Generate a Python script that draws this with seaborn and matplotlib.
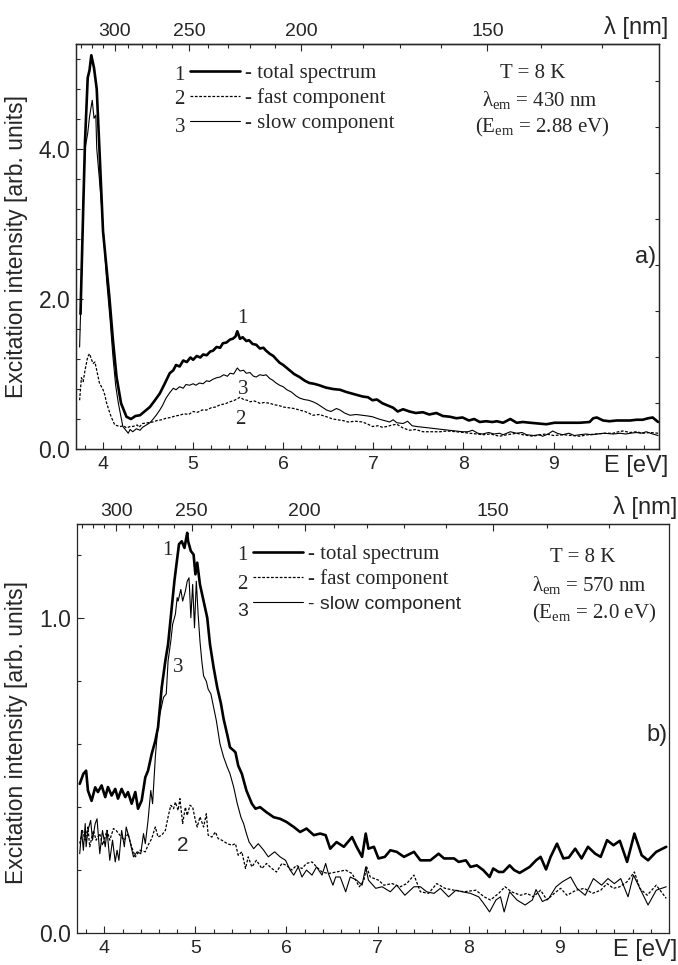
import numpy as np
import pandas as pd
import matplotlib
matplotlib.use("Agg")
import matplotlib.pyplot as plt
import seaborn as sns
from matplotlib.ticker import MultipleLocator, FixedLocator, FormatStrFormatter, NullFormatter

# ---------------- data: panel a) (lambda_em = 430 nm) ----------------
a_total_E = [3.75, 3.78, 3.80, 3.83, 3.85, 3.87, 3.90, 3.93, 3.96, 4.00, 4.04, 4.07, 4.11, 4.15, 4.20, 4.26,
             4.31, 4.36, 4.41, 4.46, 4.52, 4.57, 4.63, 4.68, 4.74, 4.78, 4.81, 4.85, 4.89, 4.93, 4.97, 5.00,
             5.04, 5.08, 5.11, 5.15, 5.19, 5.22, 5.26, 5.30, 5.33, 5.37, 5.41, 5.44, 5.47, 5.49, 5.52, 5.55,
             5.59, 5.62, 5.66, 5.70, 5.74, 5.78, 5.81, 5.85, 5.89, 5.92, 5.96, 6.00, 6.04, 6.08, 6.12, 6.18,
             6.24, 6.29, 6.34, 6.40, 6.47, 6.55, 6.63, 6.70, 6.76, 6.82, 6.88, 6.94, 6.99, 7.04, 7.10, 7.16,
             7.22, 7.27, 7.33, 7.40, 7.47, 7.55, 7.62, 7.70, 7.77, 7.85, 7.92, 7.99, 8.06, 8.12, 8.18, 8.25,
             8.32, 8.37, 8.44, 8.52, 8.59, 8.66, 8.74, 8.83, 8.92, 9.01, 9.10, 9.20, 9.29, 9.40, 9.44, 9.48,
             9.55, 9.62, 9.70, 9.77, 9.85, 9.92, 9.99, 10.05, 10.10, 10.16]
a_total_I = [1.80, 3.20, 4.10, 4.95, 5.05, 5.25, 5.08, 4.80, 4.00, 2.90, 2.40, 2.03, 1.45, 0.96, 0.61, 0.43,
             0.40, 0.44, 0.45, 0.50, 0.56, 0.64, 0.74, 0.86, 1.01, 1.05, 1.12, 1.10, 1.18, 1.16, 1.22, 1.19,
             1.24, 1.22, 1.26, 1.25, 1.30, 1.31, 1.36, 1.35, 1.41, 1.42, 1.46, 1.47, 1.50, 1.57, 1.47, 1.49,
             1.44, 1.45, 1.40, 1.39, 1.34, 1.35, 1.31, 1.27, 1.24, 1.20, 1.15, 1.12, 1.08, 1.04, 1.00, 0.96,
             0.91, 0.88, 0.87, 0.85, 0.82, 0.80, 0.79, 0.76, 0.74, 0.72, 0.70, 0.69, 0.65, 0.66, 0.61, 0.58,
             0.55, 0.50, 0.53, 0.50, 0.48, 0.49, 0.46, 0.48, 0.44, 0.43, 0.41, 0.42, 0.38, 0.40, 0.36, 0.37,
             0.36, 0.37, 0.35, 0.40, 0.35, 0.36, 0.35, 0.34, 0.33, 0.35, 0.35, 0.35, 0.35, 0.36, 0.41, 0.42,
             0.38, 0.37, 0.38, 0.38, 0.38, 0.39, 0.39, 0.41, 0.42, 0.36]

a_slow_E = [3.74, 3.76, 3.78, 3.80, 3.83, 3.85, 3.88, 3.90, 3.92, 3.93, 3.96, 3.99, 4.02, 4.04, 4.08, 4.11,
            4.14, 4.17, 4.22, 4.28, 4.30, 4.33, 4.37, 4.41, 4.44, 4.48, 4.52, 4.55, 4.59, 4.63, 4.66, 4.70,
            4.74, 4.78, 4.81, 4.85, 4.89, 4.92, 4.96, 5.00, 5.03, 5.07, 5.11, 5.15, 5.18, 5.22, 5.26, 5.30,
            5.34, 5.38, 5.41, 5.45, 5.49, 5.52, 5.56, 5.59, 5.63, 5.67, 5.70, 5.74, 5.78, 5.81, 5.85, 5.88,
            5.92, 5.96, 6.00, 6.04, 6.09, 6.14, 6.18, 6.23, 6.28, 6.33, 6.38, 6.43, 6.48, 6.53, 6.59, 6.63,
            6.68, 6.74, 6.81, 6.88, 6.94, 6.99, 7.06, 7.12, 7.18, 7.22, 7.26, 7.33, 7.38, 7.43, 7.48, 7.55,
            7.63, 7.70, 7.77, 7.84, 7.92, 7.99, 8.05, 8.10, 8.16, 8.21, 8.28, 8.34, 8.40, 8.44, 8.52, 8.59,
            8.65, 8.70, 8.78, 8.84, 8.88, 8.94, 8.99, 9.04, 9.10, 9.17, 9.23, 9.29, 9.36, 9.42, 9.48, 9.56,
            9.66, 9.74, 9.80, 9.85, 9.92, 9.97, 10.03, 10.10, 10.16]
a_slow_I = [1.36, 2.20, 3.30, 4.00, 4.21, 4.43, 4.65, 4.41, 4.45, 4.01, 3.59, 3.15, 2.60, 2.25, 1.70, 1.23,
            0.85, 0.61, 0.30, 0.21, 0.26, 0.23, 0.27, 0.25, 0.29, 0.32, 0.35, 0.39, 0.45, 0.52, 0.58, 0.68,
            0.75, 0.81, 0.79, 0.83, 0.81, 0.86, 0.85, 0.87, 0.85, 0.88, 0.87, 0.91, 0.90, 0.93, 0.95, 0.96,
            0.99, 0.97, 1.01, 1.00, 1.08, 1.04, 1.05, 1.01, 1.02, 0.97, 0.96, 0.99, 0.98, 0.99, 0.94, 0.92,
            0.88, 0.85, 0.83, 0.79, 0.76, 0.71, 0.68, 0.66, 0.65, 0.63, 0.60, 0.56, 0.52, 0.50, 0.54, 0.52,
            0.48, 0.45, 0.46, 0.45, 0.44, 0.43, 0.40, 0.38, 0.36, 0.39, 0.35, 0.34, 0.37, 0.31, 0.30, 0.29,
            0.28, 0.27, 0.26, 0.25, 0.24, 0.23, 0.23, 0.25, 0.21, 0.20, 0.22, 0.20, 0.21, 0.19, 0.23, 0.21,
            0.22, 0.19, 0.18, 0.19, 0.17, 0.20, 0.24, 0.21, 0.19, 0.21, 0.18, 0.19, 0.20, 0.19, 0.20, 0.21,
            0.20, 0.21, 0.20, 0.21, 0.22, 0.21, 0.23, 0.20, 0.18]

a_fast_E = [3.74, 3.76, 3.78, 3.80, 3.83, 3.85, 3.87, 3.89, 3.91, 3.93, 3.96, 4.00, 4.02, 4.04, 4.07, 4.09,
            4.13, 4.16, 4.19, 4.23, 4.26, 4.30, 4.33, 4.38, 4.40, 4.44, 4.50, 4.55, 4.60, 4.65, 4.70, 4.75,
            4.80, 4.85, 4.90, 4.95, 5.00, 5.05, 5.10, 5.15, 5.20, 5.25, 5.30, 5.35, 5.41, 5.46, 5.52, 5.56,
            5.60, 5.63, 5.68, 5.74, 5.79, 5.85, 5.90, 5.95, 6.00, 6.06, 6.12, 6.18, 6.24, 6.28, 6.33, 6.40,
            6.48, 6.55, 6.60, 6.66, 6.72, 6.80, 6.88, 6.94, 6.99, 7.05, 7.10, 7.15, 7.21, 7.26, 7.33, 7.40,
            7.47, 7.55, 7.65, 7.74, 7.82, 7.92, 8.00, 8.07, 8.15, 8.22, 8.30, 8.40, 8.48, 8.59, 8.66, 8.77,
            8.85, 8.92, 9.00, 9.11, 9.20, 9.29, 9.38, 9.48, 9.57, 9.66, 9.72, 9.77, 9.85, 9.92, 9.99, 10.07,
            10.16]
a_fast_I = [0.65, 0.95, 0.90, 1.05, 1.23, 1.27, 1.20, 1.14, 1.16, 1.05, 0.88, 0.79, 0.72, 0.61, 0.50, 0.43,
            0.32, 0.31, 0.30, 0.31, 0.28, 0.30, 0.30, 0.32, 0.29, 0.34, 0.35, 0.36, 0.38, 0.39, 0.41, 0.42,
            0.44, 0.45, 0.47, 0.46, 0.50, 0.49, 0.52, 0.52, 0.55, 0.56, 0.59, 0.60, 0.63, 0.65, 0.69, 0.66,
            0.65, 0.63, 0.64, 0.61, 0.62, 0.61, 0.59, 0.58, 0.56, 0.55, 0.54, 0.52, 0.50, 0.48, 0.45, 0.46,
            0.43, 0.40, 0.39, 0.38, 0.36, 0.37, 0.36, 0.33, 0.30, 0.31, 0.29, 0.30, 0.32, 0.33, 0.28, 0.25,
            0.26, 0.23, 0.23, 0.23, 0.24, 0.23, 0.22, 0.21, 0.20, 0.19, 0.20, 0.17, 0.19, 0.21, 0.19, 0.17,
            0.19, 0.20, 0.18, 0.19, 0.18, 0.17, 0.19, 0.20, 0.21, 0.21, 0.23, 0.24, 0.22, 0.23, 0.21, 0.22,
            0.21]

# ---------------- data: panel b) (lambda_em = 570 nm) ----------------
b_total_E = [3.73, 3.77, 3.80, 3.82, 3.86, 3.90, 3.93, 3.97, 4.01, 4.04, 4.08, 4.12, 4.15, 4.19, 4.23, 4.26,
             4.30, 4.34, 4.37, 4.41, 4.45, 4.48, 4.52, 4.56, 4.59, 4.63, 4.67, 4.70, 4.74, 4.77, 4.80, 4.82,
             4.85, 4.88, 4.91, 4.92, 4.95, 4.98, 5.00, 5.02, 5.05, 5.09, 5.13, 5.16, 5.20, 5.24, 5.28, 5.31,
             5.35, 5.38, 5.42, 5.44, 5.47, 5.51, 5.56, 5.62, 5.66, 5.71, 5.78, 5.86, 5.93, 6.00, 6.08, 6.15,
             6.22, 6.30, 6.37, 6.43, 6.48, 6.55, 6.63, 6.72, 6.77, 6.83, 6.87, 6.90, 6.96, 7.01, 7.08, 7.14,
             7.21, 7.29, 7.40, 7.47, 7.58, 7.67, 7.73, 7.84, 7.89, 7.97, 8.02, 8.09, 8.16, 8.23, 8.27, 8.33,
             8.38, 8.45, 8.50, 8.56, 8.67, 8.74, 8.79, 8.85, 8.90, 8.97, 9.04, 9.10, 9.17, 9.24, 9.31, 9.39,
             9.45, 9.52, 9.59, 9.66, 9.74, 9.82, 9.90, 9.97, 10.06, 10.17]
b_total_I = [0.474, 0.506, 0.516, 0.453, 0.420, 0.463, 0.448, 0.469, 0.432, 0.464, 0.437, 0.458, 0.427, 0.458,
             0.432, 0.448, 0.411, 0.448, 0.395, 0.421, 0.495, 0.516, 0.569, 0.611, 0.654, 0.780, 0.865, 0.918,
             1.034, 1.120, 1.190, 1.236, 1.245, 1.224, 1.272, 1.245, 1.214, 1.203, 1.140, 1.177, 1.108, 1.055,
             1.002, 0.918, 0.844, 0.780, 0.730, 0.680, 0.630, 0.590, 0.580, 0.574, 0.532, 0.506, 0.453, 0.411,
             0.395, 0.400, 0.384, 0.368, 0.363, 0.353, 0.337, 0.321, 0.332, 0.311, 0.316, 0.311, 0.268, 0.289,
             0.274, 0.305, 0.274, 0.242, 0.316, 0.268, 0.274, 0.237, 0.242, 0.263, 0.258, 0.242, 0.258, 0.231,
             0.231, 0.252, 0.237, 0.237, 0.226, 0.231, 0.210, 0.215, 0.200, 0.178, 0.205, 0.194, 0.194, 0.215,
             0.200, 0.191, 0.210, 0.231, 0.242, 0.202, 0.242, 0.284, 0.237, 0.240, 0.268, 0.237, 0.274, 0.252,
             0.242, 0.295, 0.279, 0.293, 0.226, 0.316, 0.247, 0.231, 0.258, 0.274]

b_slow_E = [3.73, 3.75, 3.77, 3.79, 3.80, 3.82, 3.85, 3.87, 3.90, 3.92, 3.95, 3.98, 4.01, 4.03, 4.06, 4.09,
            4.12, 4.14, 4.16, 4.19, 4.22, 4.24, 4.27, 4.32, 4.36, 4.40, 4.43, 4.45, 4.48, 4.51, 4.53, 4.56,
            4.59, 4.61, 4.65, 4.68, 4.70, 4.73, 4.75, 4.78, 4.80, 4.81, 4.84, 4.86, 4.89, 4.91, 4.93, 4.95,
            4.97, 4.99, 5.01, 5.03, 5.05, 5.07, 5.09, 5.12, 5.14, 5.17, 5.20, 5.23, 5.27, 5.31, 5.35, 5.38,
            5.42, 5.46, 5.50, 5.53, 5.56, 5.59, 5.64, 5.69, 5.75, 5.80, 5.87, 5.93, 5.99, 6.04, 6.08, 6.13,
            6.17, 6.22, 6.28, 6.33, 6.39, 6.43, 6.46, 6.51, 6.54, 6.59, 6.65, 6.70, 6.77, 6.83, 6.87, 6.90,
            6.98, 7.05, 7.14, 7.21, 7.30, 7.40, 7.47, 7.54, 7.62, 7.69, 7.78, 7.86, 7.93, 8.02, 8.11, 8.16,
            8.23, 8.30, 8.35, 8.39, 8.45, 8.53, 8.62, 8.70, 8.74, 8.81, 8.88, 8.96, 9.03, 9.12, 9.19, 9.28,
            9.37, 9.46, 9.53, 9.60, 9.67, 9.75, 9.81, 9.88, 9.97, 10.06, 10.17]
b_slow_I = [0.252, 0.326, 0.263, 0.348, 0.274, 0.326, 0.358, 0.295, 0.348, 0.363, 0.252, 0.326, 0.274, 0.326,
            0.231, 0.295, 0.226, 0.263, 0.231, 0.326, 0.274, 0.337, 0.305, 0.242, 0.258, 0.252, 0.316, 0.284,
            0.358, 0.453, 0.411, 0.559, 0.664, 0.696, 0.749, 0.760, 0.865, 0.928, 0.981, 1.013, 1.066, 1.055,
            1.092, 1.055, 1.087, 1.118, 1.129, 1.002, 1.108, 0.970, 1.118, 1.013, 0.928, 0.865, 0.817, 0.800,
            0.775, 0.760, 0.717, 0.675, 0.601, 0.559, 0.527, 0.506, 0.464, 0.411, 0.368, 0.347, 0.316, 0.289,
            0.268, 0.284, 0.263, 0.242, 0.258, 0.242, 0.231, 0.200, 0.184, 0.210, 0.178, 0.200, 0.184, 0.210,
            0.184, 0.221, 0.189, 0.152, 0.178, 0.178, 0.131, 0.178, 0.168, 0.152, 0.210, 0.168, 0.142, 0.147,
            0.131, 0.152, 0.120, 0.147, 0.147, 0.131, 0.126, 0.142, 0.115, 0.136, 0.131, 0.126, 0.115, 0.096,
            0.067, 0.105, 0.115, 0.067, 0.131, 0.105, 0.089, 0.105, 0.138, 0.100, 0.110, 0.147, 0.163, 0.178,
            0.142, 0.120, 0.173, 0.152, 0.173, 0.157, 0.173, 0.115, 0.184, 0.142, 0.089, 0.136, 0.147]

b_fast_E = [3.73, 3.76, 3.79, 3.82, 3.84, 3.88, 3.91, 3.95, 3.98, 4.03, 4.06, 4.10, 4.13, 4.17, 4.22, 4.26,
            4.30, 4.34, 4.39, 4.45, 4.48, 4.52, 4.56, 4.59, 4.63, 4.67, 4.70, 4.73, 4.76, 4.78, 4.81, 4.83,
            4.86, 4.89, 4.91, 4.94, 4.97, 5.00, 5.02, 5.05, 5.09, 5.12, 5.14, 5.18, 5.22, 5.25, 5.29, 5.35,
            5.40, 5.44, 5.47, 5.51, 5.55, 5.58, 5.62, 5.67, 5.73, 5.78, 5.84, 5.89, 5.95, 6.00, 6.06, 6.11,
            6.17, 6.22, 6.28, 6.33, 6.39, 6.46, 6.55, 6.65, 6.72, 6.80, 6.85, 6.88, 6.92, 7.01, 7.07, 7.16,
            7.25, 7.32, 7.40, 7.47, 7.56, 7.65, 7.74, 7.84, 7.95, 8.08, 8.17, 8.24, 8.33, 8.40, 8.47, 8.57,
            8.64, 8.71, 8.79, 8.86, 8.94, 9.01, 9.08, 9.18, 9.27, 9.36, 9.45, 9.52, 9.59, 9.66, 9.74, 9.82,
            9.88, 9.96, 10.06, 10.17]
b_fast_I = [0.284, 0.326, 0.295, 0.337, 0.274, 0.326, 0.295, 0.316, 0.279, 0.326, 0.295, 0.332, 0.326, 0.311,
            0.295, 0.316, 0.274, 0.242, 0.263, 0.258, 0.279, 0.300, 0.337, 0.305, 0.311, 0.326, 0.369, 0.406,
            0.395, 0.416, 0.390, 0.427, 0.348, 0.400, 0.374, 0.406, 0.400, 0.358, 0.337, 0.369, 0.337, 0.379,
            0.311, 0.305, 0.321, 0.300, 0.295, 0.284, 0.279, 0.284, 0.247, 0.258, 0.205, 0.242, 0.210, 0.231,
            0.205, 0.221, 0.205, 0.194, 0.221, 0.215, 0.200, 0.215, 0.205, 0.221, 0.226, 0.210, 0.194, 0.189,
            0.194, 0.200, 0.189, 0.147, 0.168, 0.210, 0.178, 0.168, 0.152, 0.157, 0.147, 0.157, 0.184, 0.131,
            0.126, 0.157, 0.142, 0.136, 0.131, 0.136, 0.115, 0.105, 0.126, 0.147, 0.131, 0.120, 0.126, 0.115,
            0.136, 0.105, 0.126, 0.142, 0.120, 0.136, 0.142, 0.126, 0.136, 0.157, 0.142, 0.147, 0.163, 0.194,
            0.142, 0.120, 0.152, 0.110]

legend_labels = ["- total spectrum", "- fast component", "- slow component"]
lambda_major = [300, 250, 200, 150]
lambda_minor = list(range(120, 340, 10))

# ---------------- style ----------------
sns.set_style("ticks")
plt.rcParams["font.family"] = ["Liberation Sans", "DejaVu Sans"]
plt.rcParams["mathtext.fontset"] = "custom"
plt.rcParams["mathtext.rm"] = "Liberation Serif"
plt.rcParams["mathtext.it"] = "Liberation Serif:italic"
plt.rcParams["axes.linewidth"] = 0.9

SERIF = ["Liberation Serif", "DejaVu Serif"]
SANS = ["Liberation Sans", "DejaVu Sans"]
HC = 1239.84


def e2l(x):
    x = np.asarray(x, dtype=float)
    with np.errstate(divide="ignore", invalid="ignore"):
        return HC / x


fig = plt.figure(figsize=(6.78, 9.65), dpi=100)
axA = fig.add_axes([76 / 678, 1 - 449 / 965, 583 / 678, 405 / 965])
axB = fig.add_axes([77 / 678, 1 - 933 / 965, 592 / 678, 409 / 965])


def draw(ax, tE, tI, fE, fI, sE, sI):
    sns.lineplot(x=tE, y=tI, ax=ax, color="black", linewidth=1.9, estimator=None, sort=False,
                 label=legend_labels[0])
    sns.lineplot(x=fE, y=fI, ax=ax, color="black", linewidth=0.9, estimator=None, sort=False,
                 linestyle=(0, (2.2, 1.3)), label=legend_labels[1])
    sns.lineplot(x=sE, y=sI, ax=ax, color="black", linewidth=0.8, estimator=None, sort=False,
                 label=legend_labels[2])


def style_axes(ax, xlim, ylim, ymaj, ymin):
    ax.set_xlim(*xlim)
    ax.set_ylim(*ylim)
    ax.xaxis.set_major_locator(FixedLocator([4, 5, 6, 7, 8, 9]))
    ax.xaxis.set_minor_locator(MultipleLocator(0.2))
    ax.yaxis.set_major_locator(MultipleLocator(ymaj))
    ax.yaxis.set_minor_locator(MultipleLocator(ymin))
    ax.yaxis.set_major_formatter(FormatStrFormatter("%.1f"))
    ax.tick_params(axis="both", which="both", direction="in", top=False, right=False, width=0.8)
    ax.tick_params(axis="both", which="major", length=5)
    ax.tick_params(axis="both", which="minor", length=3)
    ax.tick_params(axis="x", which="major", labelsize=14, pad=5)
    ax.tick_params(axis="y", which="major", labelsize=16.5, pad=4)
    ax.set_xlabel("")
    ax.set_ylabel("Excitation intensity [arb. units]", fontsize=16.5)
    for s in ax.spines.values():
        s.set_visible(True)
        s.set_linewidth(0.9)
    sec = ax.secondary_xaxis("top", functions=(e2l, e2l))
    sec.set_xticks(lambda_major)
    sec.xaxis.set_minor_locator(FixedLocator(lambda_minor))
    sec.xaxis.set_minor_formatter(NullFormatter())
    sec.tick_params(axis="x", which="both", direction="in", width=0.8, labelsize=14, pad=3)
    sec.tick_params(axis="x", which="major", length=5)
    sec.tick_params(axis="x", which="minor", length=3)
    ax.text(0.96, 1.04, "λ [nm]", transform=ax.transAxes, ha="center", va="center",
            fontsize=17, family=SANS)
    ax.text(0.96, -0.042, "E [eV]", transform=ax.transAxes, ha="center", va="center",
            fontsize=17, family=SANS)


# ---------- panel a ----------
draw(axA, a_total_E, a_total_I, a_fast_E, a_fast_I, a_slow_E, a_slow_I)
style_axes(axA, (3.70, 10.17), (0, 5.4), 2.0, 0.4)
axA.yaxis.set_label_coords(-0.082, 0.5)
legA = axA.legend(loc="upper left", bbox_to_anchor=(0.196, 0.952), frameon=False,
                  prop={"family": SERIF, "size": 15}, handlelength=2.4, handletextpad=0.25,
                  labelspacing=0.25, borderpad=0, borderaxespad=0)
for num, y in zip(["1", "2", "3"], [0.923, 0.862, 0.795]):
    axA.text(0.178, y, num, transform=axA.transAxes, ha="center", va="center",
             fontsize=15, family=SERIF)
axA.text(0.784, 0.928, "T = 8 K", transform=axA.transAxes, ha="center", va="center",
         fontsize=15, family=SERIF)
axA.text(0.796, 0.862, r"λ$_{\mathrm{em}}$ = 430 nm", transform=axA.transAxes, ha="center",
         va="center", fontsize=15, family=SERIF)
axA.text(0.799, 0.795, r"(E$_{\mathrm{em}}$ = 2.88 eV)", transform=axA.transAxes, ha="center",
         va="center", fontsize=15, family=SERIF)
axA.text(0.995, 0.474, "a)", transform=axA.transAxes, ha="right", va="center", fontsize=17,
         family=SANS)
axA.text(0.286, 0.323, "1", transform=axA.transAxes, ha="center", va="center", fontsize=15, family=SERIF)
axA.text(0.286, 0.148, "3", transform=axA.transAxes, ha="center", va="center", fontsize=15, family=SERIF)
axA.text(0.281, 0.072, "2", transform=axA.transAxes, ha="center", va="center", fontsize=15, family=SERIF)
# right-side inner ticks of panel a
axR = axA.twinx()
axR.set_ylim(0, 405 / 46)
axR.yaxis.set_major_locator(MultipleLocator(1))
axR.tick_params(axis="y", which="both", direction="in", length=3, width=0.8, labelright=False)
axR.grid(False)

# ---------- panel b ----------
draw(axB, b_total_E, b_total_I, b_fast_E, b_fast_I, b_slow_E, b_slow_I)
style_axes(axB, (3.70, 10.20), (0, 1.3), 1.0, 0.2)
axB.yaxis.set_label_coords(-0.083, 0.49)
legB = axB.legend(loc="upper left", bbox_to_anchor=(0.297, 0.950), frameon=False,
                  prop={"family": SERIF, "size": 15}, handlelength=2.4, handletextpad=0.25,
                  labelspacing=0.25, borderpad=0, borderaxespad=0)
legB.get_texts()[2].set_family(SANS)
legB.get_texts()[2].set_fontsize(14)
for num, y, fam in zip(["1", "2", "3"], [0.922, 0.853, 0.785], [SERIF, SERIF, SANS]):
    axB.text(0.279, y, num, transform=axB.transAxes, ha="center", va="center",
             fontsize=15 if fam is SERIF else 14, family=fam)
axB.text(0.855, 0.919, "T = 8 K", transform=axB.transAxes, ha="center", va="center",
         fontsize=15, family=SERIF)
axB.text(0.866, 0.851, r"λ$_{\mathrm{em}}$ = 570 nm", transform=axB.transAxes, ha="center",
         va="center", fontsize=15, family=SERIF)
axB.text(0.873, 0.782, r"(E$_{\mathrm{em}}$ = 2.0 eV)", transform=axB.transAxes, ha="center",
         va="center", fontsize=15, family=SERIF)
axB.text(0.997, 0.484, "b)", transform=axB.transAxes, ha="right", va="center", fontsize=17,
         family=SANS)
axB.text(0.152, 0.936, "1", transform=axB.transAxes, ha="center", va="center", fontsize=15, family=SERIF)
axB.text(0.171, 0.650, "3", transform=axB.transAxes, ha="center", va="center", fontsize=15, family=SERIF)
axB.text(0.179, 0.213, "2", transform=axB.transAxes, ha="center", va="center", fontsize=15, family=SANS)

fig.savefig("out.png", dpi=100)
